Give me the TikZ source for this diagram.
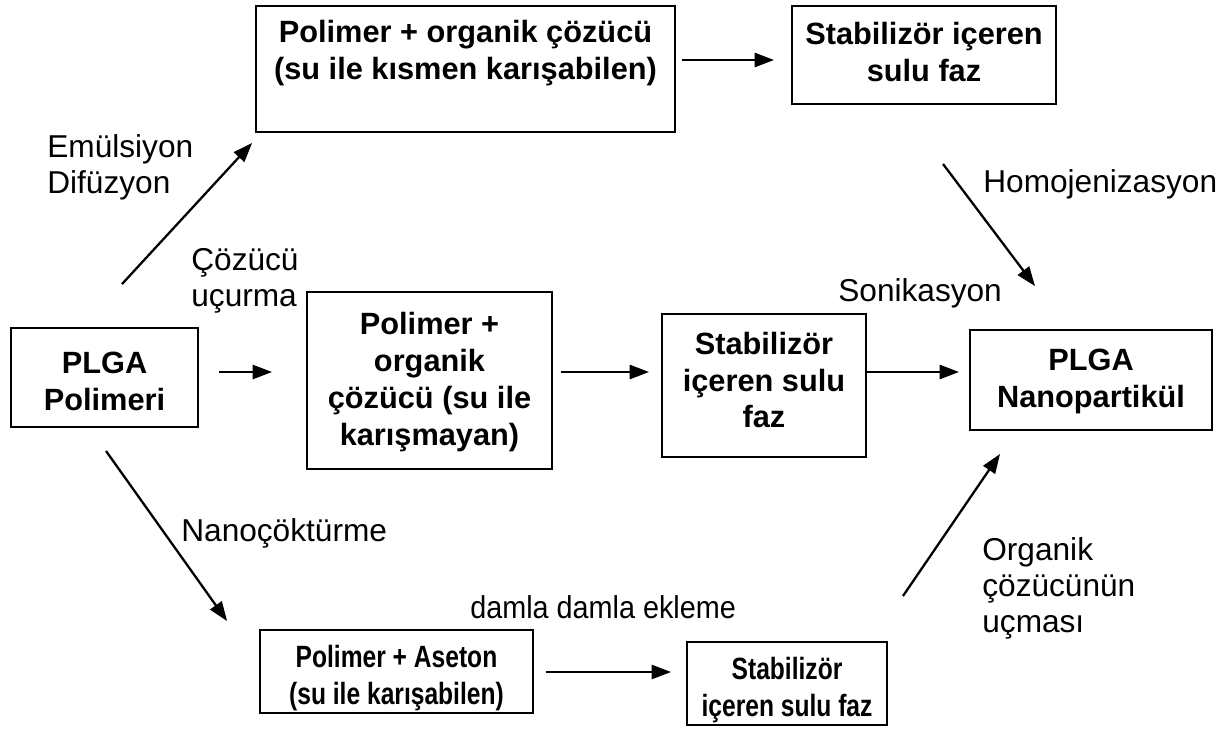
\documentclass[tikz,border=0pt]{standalone}
\usepackage{fontspec}
\usepackage{graphicx}
\setmainfont{Liberation Sans}
\usetikzlibrary{arrows.meta}
\newcommand{\narrow}[1]{\scalebox{0.8}[1]{#1}}
\begin{document}
\begin{tikzpicture}[x=0.02cm,y=-0.02cm,
  box/.style={draw, line width=1.1pt, inner sep=0pt},
  boxtext/.style={font=\fontsize{17.5}{21}\selectfont\bfseries, align=center, inner sep=0pt},
  lbl/.style={font=\fontsize{18}{20.5}\selectfont, align=left, inner sep=0pt, anchor=west},
  arr/.style={-{Triangle[length=11pt,width=8pt]}, line width=1.3pt}]
\useasboundingbox (0,0) rectangle (1231,728);

% boxes
\node[box, minimum width=8.38cm, minimum height=2.52cm] (A) at (465.5,69) {};
\node[boxtext] (At) at (465.5,53) {Polimer + organik çözücü\\(su ile kısmen karışabilen)};

\node[box, minimum width=5.28cm, minimum height=1.96cm] (B) at (924,55) {};
\node[boxtext] (Bt) at (924,52) {Stabilizör içeren\\sulu faz};

\node[box, minimum width=3.74cm, minimum height=1.98cm] (P) at (104.5,377.5) {};
\node[boxtext] (Pt) at (104.5,381) {PLGA\\Polimeri};

\node[box, minimum width=4.9cm, minimum height=3.54cm] (M) at (429.5,380.5) {};
\node[boxtext] (Mt) at (429.5,382) {Polimer +\\organik\\çözücü (su ile\\karışmayan)};

\node[box, minimum width=4.08cm, minimum height=2.86cm] (S) at (764,385.5) {};
\node[boxtext] (St) at (764,380) {Stabilizör\\içeren sulu\\faz};

\node[box, minimum width=4.84cm, minimum height=2cm] (N) at (1091,380) {};
\node[boxtext] (Nt) at (1091,381) {PLGA\\Nanopartikül};

\node[box, minimum width=5.46cm, minimum height=1.66cm] (D) at (396.5,671.5) {};
\node[boxtext] (Dt) at (396.5,678) {\narrow{Polimer + Aseton}\\\narrow{(su ile karışabilen)}};

\node[box, minimum width=4cm, minimum height=1.66cm] (E) at (787,683.5) {};
\node[boxtext] (Et) at (787,690) {\narrow{Stabilizör}\\\narrow{içeren sulu faz}};

% labels
\node[lbl] (l1) at (47,167) {Emülsiyon\\Difüzyon};
\node[lbl] (l2) at (191,281) {Çözücü\\uçurma};
\node[lbl] (l3) at (983,184) {Homojenizasyon};
\node[lbl] (l4) at (838,293) {Sonikasyon};
\node[lbl] (l5) at (181,533) {Nanoçöktürme};
\node[lbl] (l6) at (470,607) {\scalebox{0.91}[1]{damla damla ekleme}};
\node[lbl] (l7) at (982,588) {Organik\\çözücünün\\uçması};

% horizontal connectors
\draw[arr] ([xshift=0.12cm]A.east |- 0,60) -- ([xshift=-0.34cm]B.west |- 0,60);
\draw[arr] ([xshift=0.4cm]P.east |- 0,372) -- ([xshift=-0.68cm]M.west |- 0,372);
\draw[arr] ([xshift=0.16cm]M.east |- 0,372) -- ([xshift=-0.24cm]S.west |- 0,372);
\draw[arr] (S.east |- 0,372) -- ([xshift=-0.2cm]N.west |- 0,372);
\draw[arr] ([xshift=0.24cm]D.east |- 0,672) -- ([xshift=-0.3cm]E.west |- 0,672);

% diagonal connectors
\draw[arr] ([shift={(17.5,-43)}]P.north) -- ([shift={(-3,10)}]A.south west);
\draw[arr] ([shift={(19,59)}]B.south) -- ([shift={(-56,-43)}]N.north);
\draw[arr] ([shift={(1.5,23)}]P.south) -- ([shift={(-32,-8)}]D.north west);
\draw[arr] ([shift={(15,-45)}]E.north east) -- ([shift={(-91,23)}]N.south);
\end{tikzpicture}
\end{document}
